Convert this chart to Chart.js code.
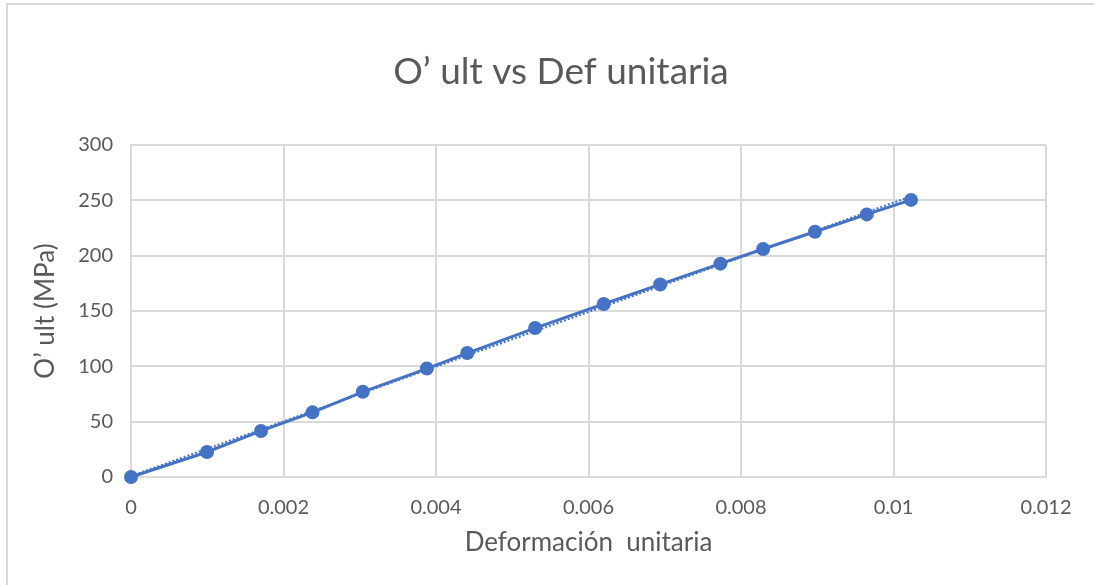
<!DOCTYPE html>
<html>
<head>
<meta charset="utf-8">
<script src="https://cdn.jsdelivr.net/npm/chart.js@4.4.1/dist/chart.umd.min.js"></script>
<style>
  html, body { margin: 0; padding: 0; background: #fff; }
  #wrap { width: 1094px; height: 585px; position: relative; }
</style>
</head>
<body>
<div id="wrap"><canvas id="myChart" width="1094" height="585"></canvas></div>
<script>
// Data
const deformacion = [0, 0.000997, 0.001705, 0.00238, 0.00304, 0.00388, 0.00441, 0.0053, 0.0062, 0.00694, 0.00773, 0.00829, 0.00897, 0.00965, 0.01023];
const esfuerzo = [0, 22.6, 41.6, 58.4, 77.0, 98.0, 112.0, 134.6, 156.3, 174.0, 192.8, 206.0, 221.6, 237.3, 250.4];

const xTicks = [0, 0.002, 0.004, 0.006, 0.008, 0.01, 0.012];
const xTickLabels = ['0', '0.002', '0.004', '0.006', '0.008', '0.01', '0.012'];
const yTicks = [0, 50, 100, 150, 200, 250, 300];

const chartTitle = 'O\u2019 ult vs Def unitaria';
const xTitle = 'Deformación  unitaria';
const yTitle = 'O\u2019 ult (MPa)';

const blue = '#4472C4';
const grey = '#595959';
const gridColor = '#d9d9d9';
const fontFamily = 'Lato, "Open Sans", sans-serif';

// linear trendline (least squares) from the data
function linearFit(xs, ys) {
  const n = xs.length;
  let sx = 0, sy = 0, sxx = 0, sxy = 0;
  for (let i = 0; i < n; i++) {
    sx += xs[i]; sy += ys[i];
    sxx += xs[i] * xs[i]; sxy += xs[i] * ys[i];
  }
  const m = (n * sxy - sx * sy) / (n * sxx - sx * sx);
  const b = (sy - m * sx) / n;
  return { m: m, b: b };
}

const fit = linearFit(deformacion, esfuerzo);
const xFirst = deformacion[0];
const xLast = deformacion[deformacion.length - 1];
const trendData = [
  { x: xFirst, y: fit.m * xFirst + fit.b },
  { x: xLast, y: fit.m * xLast + fit.b }
];

const points = deformacion.map(function (x, i) {
  return { x: x, y: esfuerzo[i] };
});

// outer frame + chart title
const decor = {
  id: 'decor',
  beforeDraw: function (chart) {
    const c = chart.ctx;
    c.save();
    c.fillStyle = '#fff';
    c.fillRect(0, 0, chart.width, chart.height);
    c.strokeStyle = gridColor;
    c.lineWidth = 2;
    c.beginPath();
    c.moveTo(7, chart.height);
    c.lineTo(7, 4);
    c.lineTo(chart.width, 4);
    c.stroke();
    c.restore();
  },
  afterDraw: function (chart) {
    const c = chart.ctx;
    c.save();
    c.fillStyle = grey;
    c.font = '37px ' + fontFamily;
    c.textAlign = 'center';
    c.textBaseline = 'middle';
    c.fillText(chartTitle, 561, 72);
    c.restore();
  }
};

const ctx = document.getElementById('myChart').getContext('2d');

const chart = new Chart(ctx, {
  type: 'scatter',
  data: {
    datasets: [{
      label: 'Trendline',
      data: trendData,
      showLine: true,
      borderColor: blue,
      borderWidth: 2,
      borderDash: [2, 2],
      pointRadius: 0,
      order: 2
    },
    {
      label: 'O\u2019 ult',
      data: points,
      showLine: true,
      clip: false,
      borderColor: blue,
      backgroundColor: blue,
      borderWidth: 3,
      pointRadius: 5.5,
      pointBackgroundColor: blue,
      pointBorderColor: blue,
      order: 1
    }]
  },
  options: {
    responsive: false,
    animation: false,
    layout: { padding: { left: 20, right: 48, top: 145, bottom: 0 } },
    plugins: {
      legend: { display: false },
      tooltip: { enabled: false },
      title: { display: false }
    },
    scales: {
      x: {
        type: 'linear',
        min: 0,
        max: 0.012,
        afterBuildTicks: function (scale) {
          scale.ticks = xTicks.map(function (v) { return { value: v }; });
        },
        afterFit: function (scale) { scale.height = 108; },
        ticks: {
          padding: 19,
          color: grey,
          font: { family: fontFamily, size: 20 },
          callback: function (v) {
            const i = xTicks.indexOf(v);
            return i >= 0 ? xTickLabels[i] : '';
          }
        },
        grid: { color: gridColor, lineWidth: 2, drawTicks: false },
        border: { color: gridColor, width: 2 },
        title: {
          display: true,
          text: xTitle,
          color: grey,
          font: { family: fontFamily, size: 26 },
          padding: { top: 0, bottom: 27 }
        }
      },
      y: {
        type: 'linear',
        min: 0,
        max: 300,
        afterBuildTicks: function (scale) {
          scale.ticks = yTicks.map(function (v) { return { value: v }; });
        },
        afterFit: function (scale) { scale.width = 111; },
        ticks: {
          padding: 18,
          color: grey,
          font: { family: fontFamily, size: 20 }
        },
        grid: { color: gridColor, lineWidth: 2, drawTicks: false },
        border: { color: gridColor, width: 2 },
        title: {
          display: true,
          text: yTitle,
          color: grey,
          font: { family: fontFamily, size: 26 },
          padding: { top: 10, bottom: 0 }
        }
      }
    }
  },
  plugins: [decor]
});
</script>
</body>
</html>
